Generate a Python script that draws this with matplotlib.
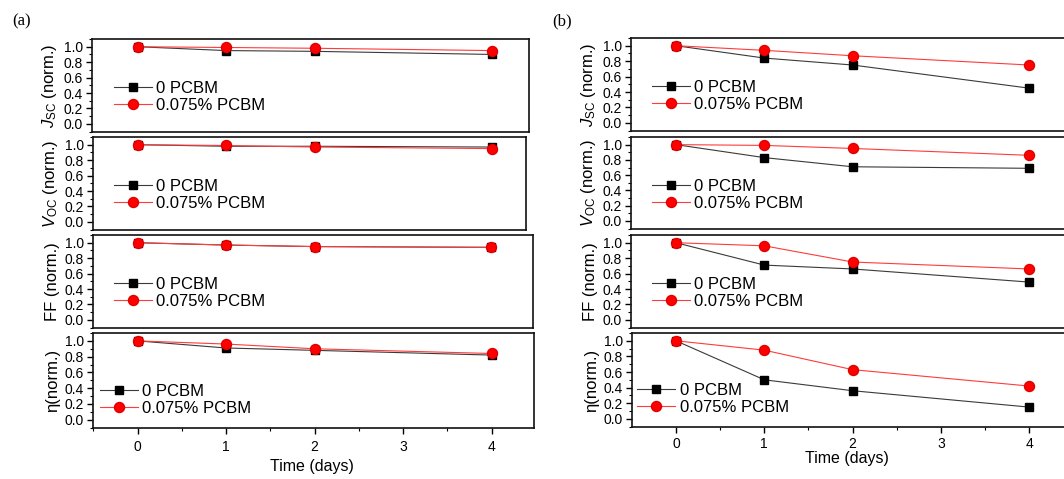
import matplotlib
matplotlib.use("Agg")
import matplotlib.pyplot as plt
from matplotlib.ticker import MultipleLocator, NullLocator

plt.rcParams['font.family'] = ['Liberation Sans', 'DejaVu Sans']
plt.rcParams['mathtext.fontset'] = 'custom'
plt.rcParams['mathtext.rm'] = 'Liberation Sans'
plt.rcParams['mathtext.it'] = 'Liberation Sans:italic'

# ---------------- data ----------------
days = [0, 1, 2, 4]
series_labels = ['0 PCBM', '0.075% PCBM']
ylabels = [r'$\mathit{J}_{\mathrm{SC}}$ (norm.)', r'$\mathit{V}_{\mathrm{OC}}$ (norm.)',
           'FF (norm.)', 'η(norm.)']
xlabel = 'Time (days)'
panel_names = ['(a)', '(b)']

a_jsc_0 = [1.00, 0.95, 0.94, 0.90]
a_jsc_p = [1.00, 0.99, 0.98, 0.95]
a_voc_0 = [1.00, 0.98, 0.98, 0.97]
a_voc_p = [1.00, 0.99, 0.97, 0.95]
a_ff_0 = [1.00, 0.97, 0.95, 0.94]
a_ff_p = [1.00, 0.97, 0.95, 0.94]
a_eta_0 = [1.00, 0.91, 0.88, 0.82]
a_eta_p = [1.00, 0.96, 0.90, 0.84]

b_jsc_0 = [1.00, 0.84, 0.75, 0.45]
b_jsc_p = [1.00, 0.94, 0.87, 0.75]
b_voc_0 = [1.00, 0.83, 0.71, 0.69]
b_voc_p = [1.00, 0.99, 0.95, 0.86]
b_ff_0 = [1.00, 0.71, 0.66, 0.49]
b_ff_p = [1.00, 0.96, 0.75, 0.66]
b_eta_0 = [1.00, 0.50, 0.36, 0.15]
b_eta_p = [1.00, 0.88, 0.63, 0.42]

panel_a = [(a_jsc_0, a_jsc_p), (a_voc_0, a_voc_p), (a_ff_0, a_ff_p), (a_eta_0, a_eta_p)]
panel_b = [(b_jsc_0, b_jsc_p), (b_voc_0, b_voc_p), (b_ff_0, b_ff_p), (b_eta_0, b_eta_p)]

# ---------------- layout (pixels) ----------------
W, H = 1064, 479
fig = plt.figure(figsize=(W / 100, H / 100), dpi=100)

boxes_a = [(92, 39, 529, 132), (93, 137, 526, 230), (93, 235, 533, 328), (93, 333, 534, 428)]
boxes_b = [(631, 38, 1075, 131), (631, 137, 1075, 229), (631, 235, 1075, 328), (632, 333, 1075, 427)]
zero_a, px_day_a = 137.5, 88.5
zero_b, px_day_b = 676.0, 88.3

# legend: (handle-start x px, center-y px below top)
leg_a = [(114, 58), (114, 58), (114, 58), (100, 67)]
leg_b = [(652, 58), (652, 58), (652, 58), (637, 66)]


def add_px_axes(box):
    x0, y0, x1, y1 = box
    return fig.add_axes([x0 / W, 1 - y1 / H, (x1 - x0) / W, (y1 - y0) / H])


def draw_panel(boxes, data, zero, pxd, legpos, tickpad):
    axes = []
    for i, (box, (s0, sp)) in enumerate(zip(boxes, data)):
        ax = add_px_axes(box)
        x0, y0, x1, y1 = box
        ax.set_xlim((x0 - zero) / pxd, (x1 - zero) / pxd)
        ax.set_ylim(-0.105, 1.1)
        ax.plot(days, s0, color='#3a3a3a', lw=0.8, marker='s', ms=5.8,
                mfc='black', mec='black', label=series_labels[0], zorder=3)
        ax.plot(days, sp, color='#ff3b3b', lw=0.8, marker='o', ms=7.2,
                mfc='#ff0000', mec='#e00000', label=series_labels[1], zorder=4)
        for sp_ in ax.spines.values():
            sp_.set_linewidth(1.2)
            sp_.set_color('#111111')
        ax.yaxis.set_minor_locator(MultipleLocator(0.1))
        ax.tick_params(axis='y', which='major', direction='out', length=4.5, width=1.0,
                       labelsize=10, pad=2)
        ax.tick_params(axis='y', which='minor', direction='out', length=2.5, width=0.8)
        ax.set_yticks([0, 0.2, 0.4, 0.6, 0.8, 1.0])
        ax.set_yticklabels(['0.0', '0.2', '0.4', '0.6', '0.8', '1.0'])
        ax.set_ylabel(ylabels[i], fontsize=12, labelpad=3)
        if i < 3:
            ax.xaxis.set_major_locator(NullLocator())
            ax.xaxis.set_minor_locator(NullLocator())
        else:
            ax.xaxis.set_major_locator(MultipleLocator(1))
            ax.xaxis.set_minor_locator(MultipleLocator(0.5))
            ax.tick_params(axis='x', which='major', direction='out', length=4.5, width=1.0,
                           labelsize=10, pad=tickpad)
            ax.tick_params(axis='x', which='minor', direction='out', length=2.5, width=0.8)
        lx, ly = legpos[i]
        ax.legend(loc='center left',
                  bbox_to_anchor=((lx - x0) / (x1 - x0), 1 - ly / (y1 - y0)),
                  frameon=False, borderpad=0, borderaxespad=0, fontsize=12,
                  handlelength=2.25, handletextpad=0.3, labelspacing=0.12)
        axes.append(ax)
    return axes


axa = draw_panel(boxes_a, panel_a, zero_a, px_day_a, leg_a, 4)
axb = draw_panel(boxes_b, panel_b, zero_b, px_day_b, leg_b, 2.5)

fig.text(312 / W, 1 - 467 / H, xlabel, ha='center', va='center', fontsize=11.5)
fig.text(847 / W, 1 - 459 / H, xlabel, ha='center', va='center', fontsize=11.5)
fig.text(12 / W, 1 - 21 / H, panel_names[0], ha='left', va='center', fontsize=12,
         family='Liberation Serif')
fig.text(552 / W, 1 - 21 / H, panel_names[1], ha='left', va='center', fontsize=12,
         family='Liberation Serif')

fig.savefig('out.png', dpi=100)
